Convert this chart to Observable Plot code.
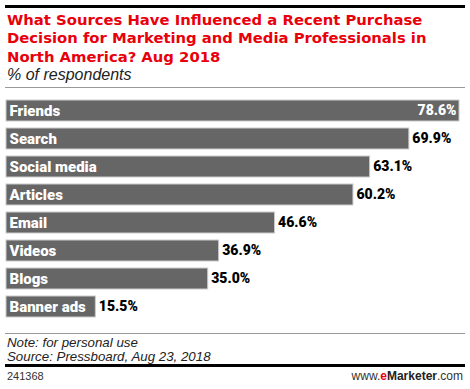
<!DOCTYPE html>
<html>
<head>
<meta charset="utf-8">
<script src="https://cdn.jsdelivr.net/npm/d3@7"></script>
<script src="https://cdn.jsdelivr.net/npm/@observablehq/plot@0.6"></script>
<style>
  html, body { margin: 0; padding: 0; background: #fff; }
  #wrap { position: relative; width: 470px; height: 389px; overflow: hidden; font-family: "Liberation Sans", Arial, sans-serif; }
  .abs { position: absolute; }
  #topline { left: 5px; top: 5px; width: 460px; height: 3px; background: #000; }
  #title { left: 7px; top: 10.5px; width: 463px; white-space: nowrap; color: #e8000b; font-family: "DejaVu Sans", sans-serif; font-weight: bold; font-size: 14.8px; line-height: 18.5px; }
  #subtitle { left: 7px; top: 66px; font-style: italic; font-size: 16px; color: #222; }
  #subline { left: 5px; top: 87px; width: 460px; height: 1px; background: #999; }
  #chart { left: 0px; top: 96px; }
  #footline { left: 5px; top: 333px; width: 460px; height: 1px; background: #999; }
  #note { left: 7px; top: 336px; font-style: italic; font-size: 13.3px; line-height: 14px; color: #222; }
  #botline { left: 5px; top: 364px; width: 460px; height: 3px; background: #000; }
  #id { left: 7px; top: 370px; font-size: 11px; color: #333; }
  #brand { right: 7px; top: 369px; font-size: 12px; color: #333; }
  #brand b { color: #222; }
  #brand .e { color: #e8000b; }
</style>
</head>
<body>
<div id="wrap">
  <div id="topline" class="abs"></div>
  <div id="title" class="abs">What Sources Have Influenced a Recent Purchase<br>Decision for Marketing and Media Professionals in<br>North America? Aug 2018</div>
  <div id="subtitle" class="abs">% of respondents</div>
  <div id="subline" class="abs"></div>
  <div id="chart" class="abs"></div>
  <div id="footline" class="abs"></div>
  <div id="note" class="abs">Note: for personal use<br>Source: Pressboard, Aug 23, 2018</div>
  <div id="botline" class="abs"></div>
  <div id="id" class="abs">241368</div>
  <div id="brand" class="abs">www.<b><span class="e">e</span>Marketer</b>.com</div>
</div>
<script>
const categories = ["Friends", "Search", "Social media", "Articles", "Email", "Videos", "Blogs", "Banner ads"];
const values = [78.6, 69.9, 63.1, 60.2, 46.6, 36.9, 35.0, 15.5];
const valueLabels = ["78.6%", "69.9%", "63.1%", "60.2%", "46.6%", "36.9%", "35.0%", "15.5%"];

const data = categories.map((c, i) => ({ category: c, value: values[i], label: valueLabels[i] }));
const inside = data.filter(d => d.value > 75);
const outside = data.filter(d => d.value <= 75);

// size category label font so its width matches the reference's text
const ctx = document.createElement("canvas").getContext("2d");
function fitSize(text, weight, family, targetWidth) {
  ctx.font = `${weight} 20px ${family}`;
  const w = ctx.measureText(text).width;
  return Math.max(11, Math.min(15, 20 * targetWidth / w));
}
const labelFont = "Roboto, sans-serif";
const catSize = fitSize("Social media", 900, labelFont, 88);
const valSize = 14;

const chart = Plot.plot({
  width: 470,
  height: 226,
  marginTop: 0,
  marginBottom: 0,
  marginLeft: 6,
  marginRight: 11,
  x: { domain: [0, 78.6], axis: null },
  y: { domain: categories, axis: null, paddingInner: 0.24, paddingOuter: 0.12 },
  style: { fontFamily: labelFont, background: "transparent" },
  marks: [
    Plot.barX(data, { x: "value", y: "category", fill: "#666666", stroke: "#cccccc", strokeWidth: 1 }),
    Plot.text(data, { x: 0, y: "category", text: "category", textAnchor: "start", dx: 3, fill: "#fff", fontWeight: "900", fontSize: catSize }),
    Plot.text(outside, { x: "value", y: "category", text: "label", textAnchor: "start", dx: 3, fill: "#000", fontWeight: "900", fontSize: valSize }),
    Plot.text(inside, { x: "value", y: "category", text: "label", textAnchor: "end", dx: -3, fill: "#fff", fontWeight: "900", fontSize: valSize })
  ]
});
document.getElementById("chart").appendChild(chart);
</script>
</body>
</html>
